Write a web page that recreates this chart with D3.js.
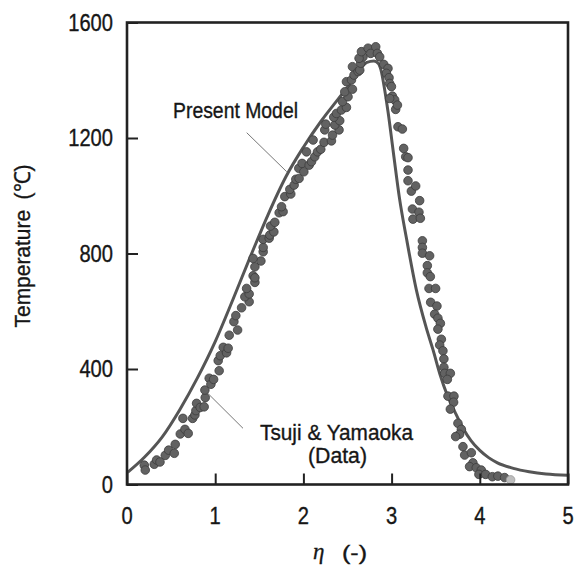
<!DOCTYPE html>
<html>
<head>
<meta charset="utf-8">
<script src="https://cdn.jsdelivr.net/npm/d3@7"></script>
<style>
  html, body { margin: 0; padding: 0; background: #fff; }
  svg { display: block; }
  .lbl { font-family: "Liberation Sans", Arial, sans-serif; fill: #161616; stroke: #161616; stroke-width: 0.35px; }
</style>
</head>
<body>
<div id="chart"></div>
<script>
// ---- data ----
const xTicks = [0, 1, 2, 3, 4, 5];
const yTicks = [0, 400, 800, 1200, 1600];

// Tsuji & Yamaoka (Data)
const obsEta = [0.196,0.207,0.309,0.336,0.374,0.434,0.472,0.536,0.547,0.604,0.657,0.694,0.634,0.744,0.770,0.781,0.789,0.830,0.875,0.887,0.883,0.932,0.951,0.982,1.045,1.034,1.057,1.091,1.129,1.147,1.159,1.254,
1.212,1.234,1.299,1.385,1.336,1.385,1.356,1.450,1.430,1.450,1.450,1.518,1.430,1.544,1.544,1.544,1.612,1.619,1.665,1.627,1.676,1.725,1.770,1.752,1.789,1.857,1.846,1.895,1.914,1.951,1.948,1.985,2.005,2.065,2.092,2.035,2.129,2.160,
2.197,2.110,2.234,2.318,2.330,2.242,2.254,2.404,2.356,2.412,2.344,2.375,2.431,2.488,2.443,2.506,2.469,2.556,2.488,2.545,2.574,2.556,2.620,2.639,2.650,2.676,2.631,2.658,2.733,2.763,2.820,2.839,2.865,2.911,2.959,2.941,2.971,2.978,2.998,3.009,3.035,2.978,3.046,3.066,3.072,3.122,3.137,3.160,3.186,
3.186,3.186,3.224,3.273,3.318,3.236,3.310,3.242,3.326,3.349,3.349,3.349,3.431,3.405,3.405,3.439,3.424,3.499,3.443,3.514,3.488,3.525,3.553,3.525,3.564,3.545,
3.582,3.593,3.593,3.601,3.666,3.632,3.639,3.707,3.703,3.666,3.752,3.791,3.771,3.726,3.809,3.828,3.904,3.922,3.884,3.960,4.017,3.990,4.066,4.142,4.205,4.281,4.349];
const obsTemp = [67,50,70,85,78,101,119,108,139,175,191,177,229,229,241,256,281,267,269,301,327,368,347,364,394,429,446,475,456,472,517,535,
564,585,612,633,650,660,679,700,723,716,754,774,783,806,821,849,853,864,875,895,908,941,945,962,997,1006,1022,1037,1057,1060,1095,1112,1083,1106,1118,1152,1135,1152,
1161,1193,1185,1190,1210,1228,1248,1228,1245,1260,1272,1285,1297,1306,1326,1343,1360,1369,1395,1401,1418,1447,1430,1435,1459,1481,1476,1499,1511,1493,1516,1493,1481,1455,1441,1424,1409,1389,1378,1345,1332,1337,1299,1314,1239,1231,1164,1135,1132,
1089,1052,1016,1034,983,954,943,919,922,844,821,801,792,758,733,720,679,679,631,618,590,576,558,538,503,483,
463,435,406,385,385,364,306,306,285,261,212,191,174,166,131,102,110,75,62,58,50,35,35,27,29,24,16];

// Present Model
const modelEta  = [0,0.2,0.4,0.6,0.8,1.0,1.2,1.4,1.6,1.8,2.0,2.2,2.4,2.55,2.65,2.72,2.8,2.85,2.88,2.92,2.96,3.02,3.09,3.17,3.28,3.39,3.47,3.55,3.63,3.72,3.81,3.9,4.0,4.1,4.2,4.38,4.56,4.75,5.0];
const modelTemp = [40,95,165,260,370,495,640,790,935,1065,1168,1258,1337,1396,1440,1462,1467,1458,1435,1370,1290,1150,990,850,675,546,466,380,310,250,195,152,118,93,75,56,44,36,32];

// ---- layout ----
const W = 577, H = 568;
const m = { left: 127, right: 9, top: 22.5, bottom: 83.5 };
const iw = W - m.left - m.right, ih = H - m.top - m.bottom;

const svg = d3.select("#chart").append("svg").attr("width", W).attr("height", H);
const g = svg.append("g").attr("transform", `translate(${m.left},${m.top})`);

const x = d3.scaleLinear().domain([0, 5]).range([0, iw]);
const y = d3.scaleLinear().domain([0, 1600]).range([ih, 0]);

// narrow-font helper: compress text to the reference's condensed widths
function narrow(sel, len) {
  sel.attr("textLength", len).attr("lengthAdjust", "spacingAndGlyphs");
  return sel;
}

const obs = obsEta.map((e, i) => ({ e, t: obsTemp[i], i }));
const model = modelEta.map((e, i) => ({ e, t: modelTemp[i] }));

// model line
g.append("path")
  .datum(model)
  .attr("fill", "none")
  .attr("stroke", "#555")
  .attr("stroke-width", 3)
  .attr("stroke-linejoin", "round")
  .attr("d", d3.line().x(d => x(d.e)).y(d => y(d.t)).curve(d3.curveMonotoneX));

// data points
g.selectAll("circle.obs").data(obs).join("circle")
  .attr("class", "obs")
  .attr("cx", d => x(d.e))
  .attr("cy", d => y(d.t))
  .attr("r", 4.3)
  .attr("fill", d => d.i === obs.length - 1 ? "#bdbdbd" : "#626262")
  .attr("stroke", d => d.i === obs.length - 1 ? "#999" : "#3c3c3c")
  .attr("stroke-width", 0.8);

// axes (ticks inward)
const xAxis = d3.axisBottom(x).tickValues(xTicks).tickSize(-11).tickFormat("");
const yAxis = d3.axisLeft(y).tickValues(yTicks).tickSize(-11).tickFormat("");
const gx = g.append("g").attr("transform", `translate(0,${ih})`).call(xAxis);
const gy = g.append("g").call(yAxis);
[gx, gy].forEach(a => {
  a.select(".domain").remove();
  a.selectAll(".tick line").attr("stroke", "#222").attr("stroke-width", 2);
});

// frame
g.append("rect").attr("x", 0).attr("y", 0).attr("width", iw).attr("height", ih)
  .attr("fill", "none").attr("stroke", "#222").attr("stroke-width", 2.6);

// tick labels
g.selectAll("text.xt").data(xTicks).join("text")
  .attr("class", "lbl xt")
  .attr("x", d => x(d)).attr("y", ih + 39)
  .attr("text-anchor", "middle")
  .style("font-size", "23px")
  .text(d => d)
  .each(function(d) { narrow(d3.select(this), String(d).length * 11.2); });
g.selectAll("text.yt").data(yTicks).join("text")
  .attr("class", "lbl yt")
  .attr("x", -14).attr("y", d => y(d))
  .attr("dy", "0.36em")
  .attr("text-anchor", "end")
  .style("font-size", "23px")
  .text(d => d)
  .each(function(d) { narrow(d3.select(this), String(d).length * 11.2); });

// axis titles
narrow(svg.append("text").attr("class", "lbl")
  .attr("transform", "translate(30,246) rotate(-90)")
  .attr("text-anchor", "middle")
  .style("font-size", "22px")
  .text("Temperature\u2002(\u2103)"), 163);

svg.append("text")
  .attr("x", 313).attr("y", 559)
  .style("font-family", "'Liberation Serif', serif").style("font-style", "italic")
  .style("font-size", "23px").attr("fill", "#161616").attr("stroke", "#161616").attr("stroke-width", 0.3)
  .text("\u03b7");
narrow(svg.append("text").attr("class", "lbl")
  .attr("x", 342).attr("y", 560)
  .style("font-size", "20px")
  .text("(-)"), 25);

// annotations
narrow(svg.append("text").attr("class", "lbl")
  .attr("x", 173).attr("y", 118)
  .style("font-size", "22px")
  .text("Present Model"), 125);
svg.append("line").attr("x1", 246.7).attr("y1", 132.7).attr("x2", 286.7).attr("y2", 171.7)
  .attr("stroke", "#777").attr("stroke-width", 1);

narrow(svg.append("text").attr("class", "lbl")
  .attr("x", 260).attr("y", 440)
  .style("font-size", "22px")
  .text("Tsuji & Yamaoka"), 153);
narrow(svg.append("text").attr("class", "lbl")
  .attr("x", 308).attr("y", 463)
  .style("font-size", "22px")
  .text("(Data)"), 59);
svg.append("line").attr("x1", 208).attr("y1", 393.5).attr("x2", 243).attr("y2", 428.3)
  .attr("stroke", "#777").attr("stroke-width", 1);
</script>
</body>
</html>
